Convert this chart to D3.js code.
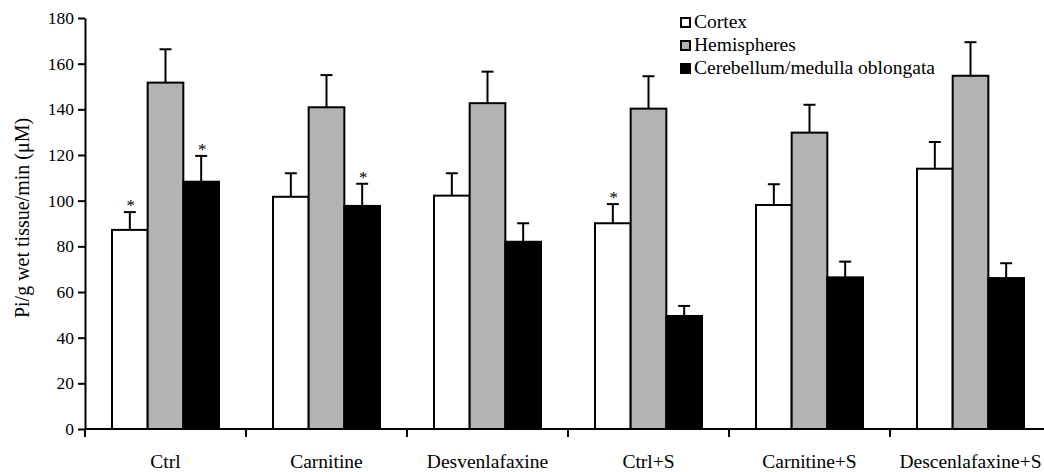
<!DOCTYPE html>
<html>
<head>
<meta charset="utf-8">
<script src="https://cdn.jsdelivr.net/npm/d3@7"></script>
<style>
  html, body { margin: 0; padding: 0; background: #fff; }
  svg text { font-family: "Liberation Serif", "DejaVu Serif", "Times New Roman", Times, serif; }
</style>
</head>
<body>
<div id="chart"></div>
<script>
const categories = ["Ctrl", "Carnitine", "Desvenlafaxine", "Ctrl+S", "Carnitine+S", "Descenlafaxine+S"];
const seriesNames = ["Cortex", "Hemispheres", "Cerebellum/medulla oblongata"];
const seriesColors = ["#ffffff", "#b3b3b3", "#000000"];

const cortex = [87.2, 101.7, 102.2, 90.1, 98.1, 114];
const cortexErr = [7.8, 10.3, 9.8, 8.4, 9.1, 11.7];
const cortexStar = [true, false, false, true, false, false];

const hemispheres = [151.7, 140.9, 142.7, 140.3, 129.8, 154.7];
const hemispheresErr = [14.6, 14.1, 13.8, 14.2, 12.2, 14.7];
const hemispheresStar = [false, false, false, false, false, false];

const cerebellum = [108.3, 97.7, 82, 49.5, 66.4, 66.1];
const cerebellumErr = [11.3, 9.7, 8.1, 4.4, 6.9, 6.5];
const cerebellumStar = [true, true, false, false, false, false];

const yTicks = [0, 20, 40, 60, 80, 100, 120, 140, 160, 180];

const values = [cortex, hemispheres, cerebellum];
const errors = [cortexErr, hemispheresErr, cerebellumErr];
const stars = [cortexStar, hemispheresStar, cerebellumStar];

const svgWidth = 1044, svgHeight = 472;
const marginLeft = 85, plotTop = 18, plotBottom = 429;

const svg = d3.select("#chart").append("svg")
  .attr("width", svgWidth)
  .attr("height", svgHeight);

const x0 = d3.scaleBand().domain(categories).range([marginLeft, marginLeft + 6 * 161]).padding(0);
const x1 = d3.scaleBand().domain(seriesNames).range([0, x0.bandwidth()]).paddingInner(0).paddingOuter(0.757);
const y = d3.scaleLinear().domain([0, 180]).range([plotBottom, plotTop]);

// flatten into bar records
const bars = [];
categories.forEach((c, i) => {
  seriesNames.forEach((s, j) => {
    bars.push({ cat: c, series: s, idx: j, value: values[j][i], err: errors[j][i], star: stars[j][i] });
  });
});

const barGroup = svg.append("g");
const cx = d => x0(d.cat) + x1(d.series) + x1.bandwidth() / 2;

// error bars first so bar outline sits on top
const errG = barGroup.selectAll(".err").data(bars).enter().append("g").attr("class", "err");
errG.append("line")
  .attr("x1", cx).attr("x2", cx)
  .attr("y1", d => y(d.value))
  .attr("y2", d => y(d.value + d.err))
  .attr("stroke", "#000")
  .attr("stroke-width", 2);
errG.append("line")
  .attr("x1", d => cx(d) - 6)
  .attr("x2", d => cx(d) + 6)
  .attr("y1", d => y(d.value + d.err))
  .attr("y2", d => y(d.value + d.err))
  .attr("stroke", "#000")
  .attr("stroke-width", 2);

barGroup.selectAll("rect").data(bars).enter().append("rect")
  .attr("x", d => x0(d.cat) + x1(d.series))
  .attr("y", d => y(d.value))
  .attr("width", x1.bandwidth())
  .attr("height", d => y(0) - y(d.value))
  .attr("fill", d => seriesColors[d.idx])
  .attr("stroke", "#000")
  .attr("stroke-width", 2);

barGroup.selectAll(".star").data(bars.filter(d => d.star)).enter().append("text")
  .attr("class", "star")
  .attr("x", d => cx(d) + 1)
  .attr("y", d => y(d.value + d.err) - 1)
  .attr("text-anchor", "middle")
  .attr("font-size", "17px")
  .attr("fill", "#000")
  .text("*");

// y axis
const yAxis = svg.append("g")
  .attr("transform", "translate(" + marginLeft + ",0)")
  .call(d3.axisLeft(y).tickValues(yTicks).tickSize(7).tickSizeOuter(0).tickPadding(4));
yAxis.attr("font-family", null);
yAxis.select(".domain").attr("stroke-width", 2);
yAxis.selectAll(".tick line").attr("stroke-width", 2);
yAxis.selectAll(".tick text").attr("font-size", "17.5px").attr("fill", "#000");

// x axis: baseline, boundary ticks, centred labels
const xAxis = svg.append("g").attr("transform", "translate(0," + plotBottom + ")");
xAxis.append("line")
  .attr("x1", marginLeft).attr("x2", marginLeft + 6 * 161)
  .attr("stroke", "#000").attr("stroke-width", 2);
xAxis.selectAll(".bt").data(categories).enter().append("line")
  .attr("x1", d => x0(d)).attr("x2", d => x0(d))
  .attr("y1", 0).attr("y2", 8)
  .attr("stroke", "#000").attr("stroke-width", 2);
xAxis.selectAll(".lbl").data(categories).enter().append("text")
  .attr("x", d => x0(d) + x0.bandwidth() / 2)
  .attr("y", 39)
  .attr("text-anchor", "middle")
  .attr("font-size", "19.5px")
  .attr("fill", "#000")
  .text(d => d);

// y title
svg.append("text")
  .attr("transform", "translate(29,218) rotate(-90)")
  .attr("text-anchor", "middle")
  .attr("font-size", "20px")
  .attr("fill", "#000")
  .text("Pi/g wet tissue/min (\u03bcM)");

// legend
const legend = svg.append("g").attr("transform", "translate(680,17)");
const rows = legend.selectAll("g").data(seriesNames).enter().append("g")
  .attr("transform", (d, i) => "translate(0," + i * 23 + ")");
rows.append("rect")
  .attr("x", 1).attr("y", 1).attr("width", 9).attr("height", 9)
  .attr("fill", (d, i) => seriesColors[i])
  .attr("stroke", "#000").attr("stroke-width", 2);
rows.append("text")
  .attr("x", 14).attr("y", 11)
  .attr("font-size", "19.5px")
  .attr("fill", "#000")
  .text(d => d);
</script>
</body>
</html>
